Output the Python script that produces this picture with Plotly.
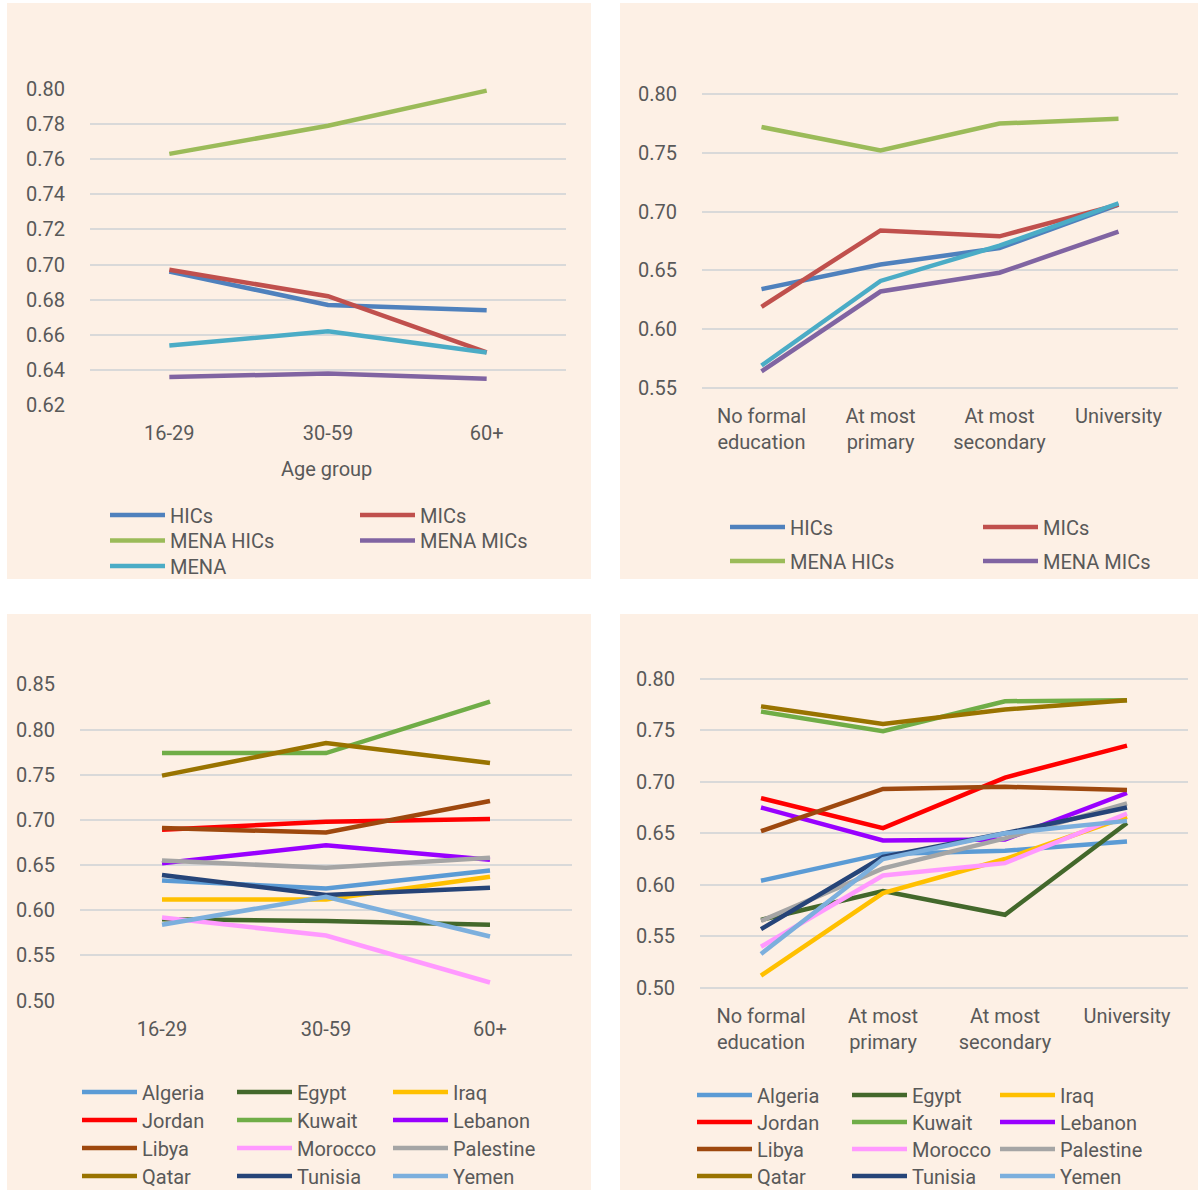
import plotly.graph_objects as go

# ---------------- data ----------------
age_groups = ["16-29", "30-59", "60+"]
education_levels = ["No formal education", "At most primary", "At most secondary", "University"]
education_ticktext = ["No formal<br>education", "At most<br>primary", "At most<br>secondary", "University"]

# Panel A: income groups by age
groups = ["HICs", "MICs", "MENA HICs", "MENA MICs", "MENA"]
hics_age = [0.696, 0.677, 0.674]
mics_age = [0.697, 0.682, 0.650]
mena_hics_age = [0.763, 0.779, 0.799]
mena_mics_age = [0.636, 0.638, 0.635]
mena_age = [0.654, 0.662, 0.650]

# Panel B: income groups by education
hics_edu = [0.634, 0.655, 0.669, 0.706]
mics_edu = [0.619, 0.684, 0.679, 0.706]
mena_hics_edu = [0.772, 0.752, 0.775, 0.779]
mena_mics_edu = [0.564, 0.632, 0.648, 0.683]
mena_edu = [0.569, 0.641, 0.671, 0.707]

# Panel C: countries by age
countries = ["Algeria", "Egypt", "Iraq", "Jordan", "Kuwait", "Lebanon",
             "Libya", "Morocco", "Palestine", "Qatar", "Tunisia", "Yemen"]
algeria_age = [0.633, 0.624, 0.644]
egypt_age = [0.590, 0.588, 0.584]
iraq_age = [0.612, 0.612, 0.637]
jordan_age = [0.689, 0.698, 0.701]
kuwait_age = [0.774, 0.774, 0.831]
lebanon_age = [0.652, 0.672, 0.656]
libya_age = [0.691, 0.686, 0.721]
morocco_age = [0.592, 0.572, 0.520]
palestine_age = [0.655, 0.647, 0.658]
qatar_age = [0.749, 0.785, 0.763]
tunisia_age = [0.639, 0.617, 0.625]
yemen_age = [0.584, 0.615, 0.571]

# Panel D: countries by education
algeria_edu = [0.604, 0.630, 0.633, 0.642]
egypt_edu = [0.566, 0.594, 0.571, 0.660]
iraq_edu = [0.512, 0.592, 0.625, 0.666]
jordan_edu = [0.684, 0.655, 0.704, 0.735]
kuwait_edu = [0.768, 0.749, 0.778, 0.779]
lebanon_edu = [0.675, 0.643, 0.644, 0.689]
libya_edu = [0.652, 0.693, 0.695, 0.692]
morocco_edu = [0.540, 0.609, 0.621, 0.669]
palestine_edu = [0.565, 0.616, 0.645, 0.679]
qatar_edu = [0.773, 0.756, 0.770, 0.779]
tunisia_edu = [0.557, 0.627, 0.650, 0.675]
yemen_edu = [0.533, 0.625, 0.650, 0.662]

group_colors = ["#4F81BD", "#C0504D", "#9BBB59", "#8064A2", "#4BACC6"]
country_colors = ["#5B9BD5", "#43682B", "#FFC000", "#FF0000", "#70AD47", "#9900FF",
                  "#9E480E", "#FF99FF", "#A5A5A5", "#997300", "#264478", "#7CAFDD"]

groups_age = [hics_age, mics_age, mena_hics_age, mena_mics_age, mena_age]
groups_edu = [hics_edu, mics_edu, mena_hics_edu, mena_mics_edu, mena_edu]
countries_age = [algeria_age, egypt_age, iraq_age, jordan_age, kuwait_age, lebanon_age,
                 libya_age, morocco_age, palestine_age, qatar_age, tunisia_age, yemen_age]
countries_edu = [algeria_edu, egypt_edu, iraq_edu, jordan_edu, kuwait_edu, lebanon_edu,
                 libya_edu, morocco_edu, palestine_edu, qatar_edu, tunisia_edu, yemen_edu]

# ---------------- layout helpers ----------------
W, H = 1198, 1196
FONT = "Roboto, Liberation Sans, sans-serif"
TXT = "#595959"
GRID = "#D9D9D9"
BG = "#FDF0E5"
LW = 4.5
FS = 20


def fx(p):
    return p / W


def fy(p):
    return 1 - p / H


axis_font = dict(family=FONT, size=FS, color=TXT)
fig = go.Figure()
legends = {}
counter = [0]


def legend_slot(xline, ycenter):
    counter[0] += 1
    key = "legend" if counter[0] == 1 else "legend%d" % counter[0]
    legends[key] = dict(orientation="h", x=fx(xline - 5), y=fy(ycenter),
                        xanchor="left", yanchor="middle", bgcolor="rgba(0,0,0,0)",
                        borderwidth=0, font=axis_font, itemwidth=55,
                        itemclick=False, itemdoubleclick=False)
    return key


def add_panel(names, series, colors, cats, xa, ya, cols_x, rows_y, n_legend):
    ncol = len(cols_x)
    for i, name in enumerate(names):
        kw = {}
        if i < n_legend:
            kw["legend"] = legend_slot(cols_x[i % ncol], rows_y[i // ncol])
        else:
            kw["showlegend"] = False
        fig.add_trace(go.Scatter(x=cats, y=series[i], name=name, mode="lines",
                                 line=dict(color=colors[i], width=LW),
                                 xaxis=xa, yaxis=ya, **kw))


add_panel(groups, groups_age, group_colors, age_groups, "x", "y",
          [110, 360], [515, 540.5, 566], 5)
# in the original the MENA legend entry of this panel is cut off by the frame
add_panel(groups, groups_edu, group_colors, education_levels, "x2", "y2",
          [730, 983], [527, 561], 4)
add_panel(countries, countries_age, country_colors, age_groups, "x3", "y3",
          [82, 237, 393], [1092, 1120, 1148, 1176], 12)
add_panel(countries, countries_edu, country_colors, education_levels, "x4", "y4",
          [697, 852, 1000], [1095, 1122, 1149, 1176], 12)

# panel boxes (pixel coordinates)
panels = [(7, 3, 591, 579), (620, 3, 1198, 579), (7, 614, 591, 1190), (620, 614, 1198, 1190)]
shapes = [dict(type="rect", xref="paper", yref="paper", x0=fx(a), x1=fx(c), y0=fy(d), y1=fy(b),
               fillcolor=BG, line=dict(width=0), layer="below") for a, b, c, d in panels]


def xax(domain, cats, anchor, ticktext=None):
    d = dict(domain=[fx(domain[0]), fx(domain[1])], type="category", anchor=anchor,
             range=[-0.5, len(cats) - 0.5], showgrid=False, zeroline=False, showline=False,
             ticks="", tickfont=axis_font, ticklabelstandoff=13, fixedrange=True)
    if ticktext:
        d.update(tickmode="array", tickvals=cats, ticktext=ticktext)
    return d


def yax(domain, rng, dtick, anchor):
    return dict(domain=[fy(domain[1]), fy(domain[0])], range=rng, dtick=dtick, tick0=0,
                tickformat=".2f", showgrid=True, gridcolor=GRID, gridwidth=1.5,
                zeroline=False, showline=False, ticks="", tickfont=axis_font,
                ticklabelstandoff=24, anchor=anchor, fixedrange=True)


layout = dict(
    width=W, height=H, margin=dict(l=0, r=0, t=0, b=0, autoexpand=False),
    paper_bgcolor="white", plot_bgcolor="rgba(0,0,0,0)",
    font=dict(family=FONT, size=FS, color=TXT),
    shapes=shapes,
    xaxis=xax((90, 566), age_groups, "y"),
    yaxis=yax((88, 406), [0.6195, 0.8005], 0.02, "x"),
    xaxis2=xax((702, 1178), education_levels, "y2", education_ticktext),
    yaxis2=yax((93, 389), [0.549, 0.801], 0.05, "x2"),
    xaxis3=xax((80, 572), age_groups, "y3"),
    yaxis3=yax((683.5, 1001.5), [0.499, 0.851], 0.05, "x3"),
    xaxis4=xax((700, 1188), education_levels, "y4", education_ticktext),
    yaxis4=yax((677.5, 989), [0.499, 0.801], 0.05, "x4"),
    annotations=[dict(text="Age group", xref="paper", yref="paper", x=fx(326), y=fy(469),
                      showarrow=False, font=axis_font, xanchor="center", yanchor="middle")],
    showlegend=True,
)
layout.update(legends)

fig.update_layout(**layout)
fig.write_html("out.html")
